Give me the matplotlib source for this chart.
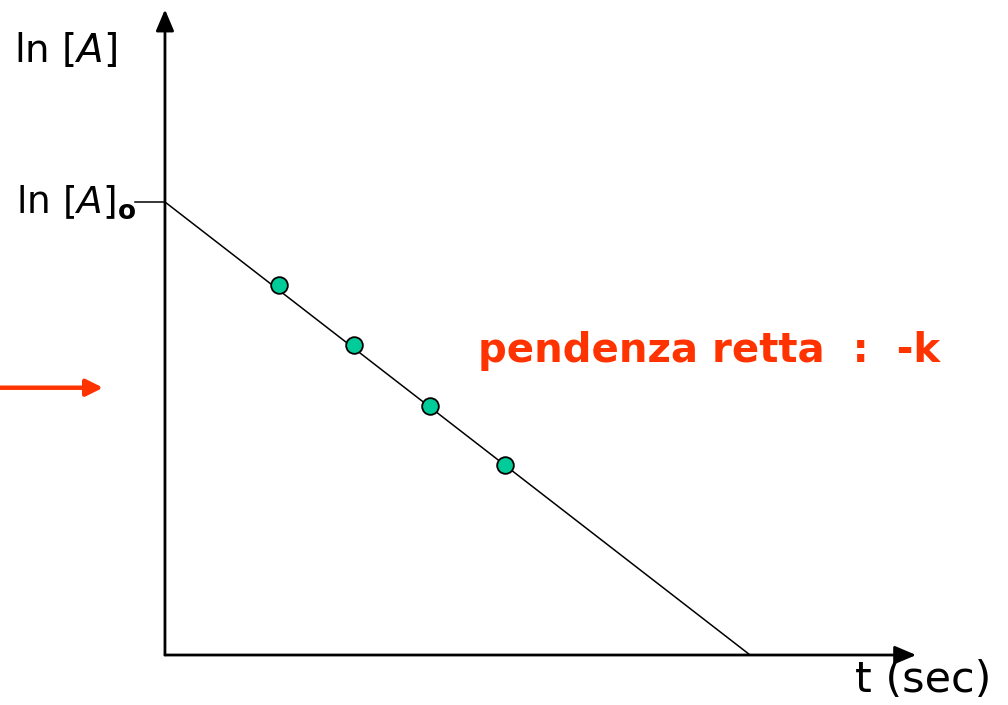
import matplotlib.pyplot as plt

# first-order kinetics: ln[A] vs t (arbitrary units)
t_line = [0.0, 7.75]
lnA_line = [6.0, 0.0]
t_points = [1.51, 2.5, 3.51, 4.5]
lnA_points = [4.9, 4.1, 3.3, 2.51]

red = '#FF3300'

fig = plt.figure(figsize=(10.08, 7.05), dpi=100)
ax = fig.add_axes([0, 0, 1, 1])
ax.set_xlim(-2.185, 11.166)
ax.set_ylim(-0.662, 8.675)
ax.axis('off')

# axes with arrow heads
ax.annotate('', xy=(0, 8.55), xytext=(0, 0),
            arrowprops=dict(arrowstyle='-|>,head_length=1.3,head_width=0.55',
                            color='black', lw=2, shrinkA=0, shrinkB=0))
ax.annotate('', xy=(9.95, 0), xytext=(0, 0),
            arrowprops=dict(arrowstyle='-|>,head_length=1.3,head_width=0.55',
                            color='black', lw=2, shrinkA=0, shrinkB=0))

# intercept tick
ax.plot([-0.4, 0], [lnA_line[0], lnA_line[0]], color='black', lw=1.1)

# fitted line and data points
ax.plot(t_line, lnA_line, color='black', lw=1.1)
ax.plot(t_points, lnA_points, 'o', ms=12, mfc='#00CC99', mec='black', mew=1.3)

# red arrow on the left
ax.annotate('', xy=(-0.82, 3.54), xytext=(-2.3, 3.54),
            arrowprops=dict(arrowstyle='-|>,head_length=1.0,head_width=0.5',
                            color=red, lw=3.2, shrinkA=0, shrinkB=0))

ax.text(-2.0, 8.0, 'ln [$\\mathit{A}$]', fontsize=28, ha='left', va='center')
ax.text(-0.38, 6.0, 'ln [$\\mathit{A}$]$_{\\mathbf{o}}$', fontsize=27,
        ha='right', va='center')
ax.text(10.95, -0.33, 't (sec)', fontsize=31, ha='right', va='center')
ax.text(4.15, 4.02, 'pendenza retta  :  -k', fontsize=29, fontweight='bold',
        color=red, ha='left', va='center')

fig.savefig('out.png', dpi=100)
